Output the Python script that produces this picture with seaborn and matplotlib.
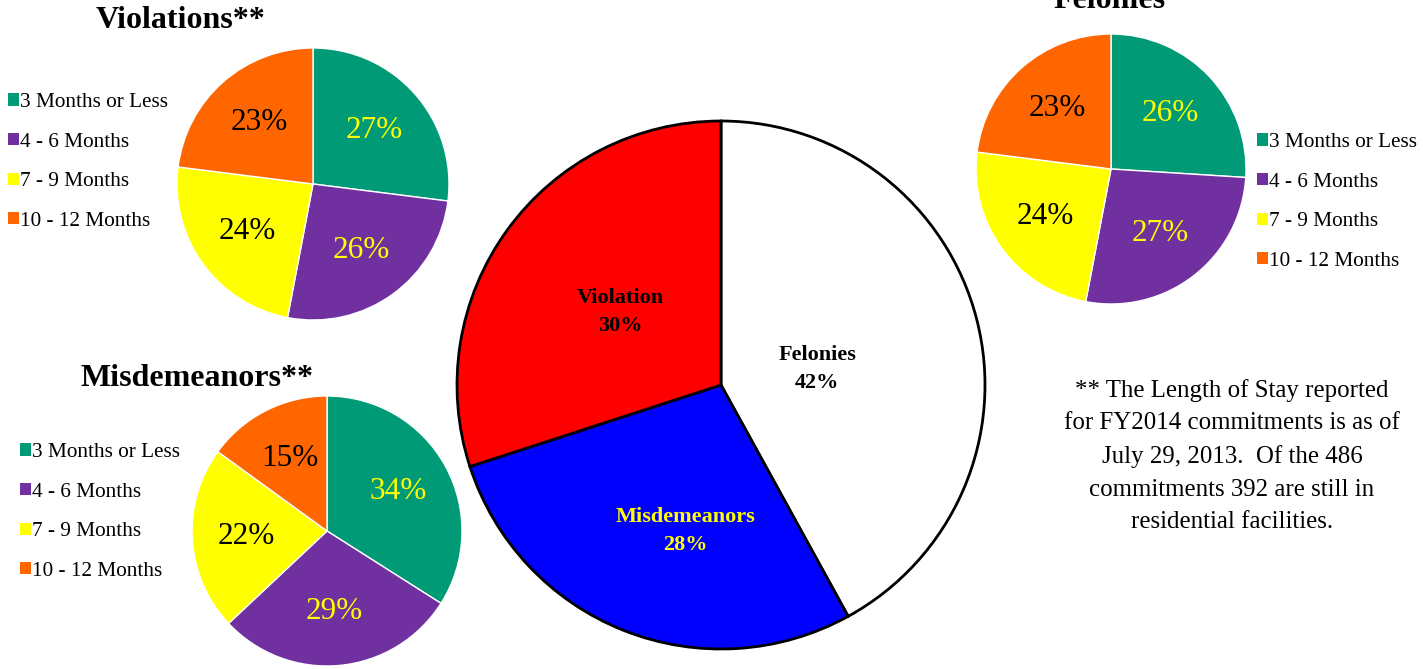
import numpy as np
import seaborn as sns
import matplotlib.pyplot as plt
from matplotlib.patches import Patch

sns.set_style("white")
plt.rcParams['font.family'] = ['Liberation Serif', 'DejaVu Serif']
plt.rcParams['text.color'] = 'black'

# data
stay_labels = ["3 Months or Less", "4 - 6 Months", "7 - 9 Months", "10 - 12 Months"]
violations_pct = [27, 26, 24, 23]
misdemeanors_pct = [34, 29, 22, 15]
felonies_pct = [26, 27, 24, 23]

main_labels = ["Felonies", "Misdemeanors", "Violation"]
main_pct = [42, 28, 30]

stay_colors = ["#009A77", "#7030A0", "#FFFF00", "#FF6600"]
stay_text = ["#FFFF00", "#FFFF00", "black", "black"]
main_colors = ["white", "#0000FF", "#FF0000"]
main_text = ["black", "#FFFF00", "black"]

note = ("** The Length of Stay reported\nfor FY2014 commitments is as of\n"
        "July 29, 2013.  Of the 486\ncommitments 392 are still in\nresidential facilities.")

W, H = 1423, 669
fig = plt.figure(figsize=(W / 100, H / 100), dpi=100)


def pie_axes(cx, cy, r):
    ax = fig.add_axes([(cx - r) / W, (H - cy - r) / H, 2 * r / W, 2 * r / H])
    ax.set_xlim(-1, 1)
    ax.set_ylim(-1, 1)
    ax.set_aspect("equal")
    ax.axis("off")
    return ax


def small_pie(cx, cy, r, values, title, tx, ty, lx, ly):
    ax = pie_axes(cx, cy, r)
    wedges, _, autotexts = ax.pie(values, colors=stay_colors, startangle=90, counterclock=False,
                                  autopct=lambda p: "%d%%" % round(p), pctdistance=0.6,
                                  textprops=dict(fontsize=22.5))
    ax.set_xlim(-1, 1)
    ax.set_ylim(-1, 1)
    for t, c in zip(autotexts, stay_text):
        t.set_color(c)
    fig.text(tx / W, 1 - ty / H, title, ha="center", va="baseline", fontsize=23, fontweight="bold")
    handles = [Patch(facecolor=c, edgecolor="none") for c in stay_colors]
    fig.legend(handles, stay_labels, loc="upper left", bbox_to_anchor=(lx / W, 1 - ly / H),
               frameon=False, fontsize=15.3, handlelength=0.5, handleheight=0.5,
               handletextpad=0.08, labelspacing=0.97, borderpad=0, borderaxespad=0)


small_pie(313, 184, 136, violations_pct, "Violations**", 181, 28, 8, 93)
small_pie(327, 531, 135, misdemeanors_pct, "Misdemeanors**", 197, 386, 20, 443)
small_pie(1111, 169, 135, felonies_pct, "Felonies", 1110, 8, 1257, 133)

# main pie
ax = pie_axes(721, 385, 264)
wedges, _ = ax.pie(main_pct, colors=main_colors, startangle=90, counterclock=False,
                   wedgeprops=dict(edgecolor="black", linewidth=2))
ax.set_xlim(-1, 1)
ax.set_ylim(-1, 1)
label_dist = [0.37, 0.57, 0.47]
label_turn = [-5, 8, 0]  # small angle nudges, like Excel's best-fit labels
for w, lab, pct, c, d, t in zip(wedges, main_labels, main_pct, main_text, label_dist, label_turn):
    w.set_clip_on(False)
    ang = np.deg2rad((w.theta1 + w.theta2) / 2 + t)
    ax.text(d * np.cos(ang), d * np.sin(ang), "%s\n%d%%" % (lab, pct), ha="center", va="center",
            fontsize=16, fontweight="bold", color=c, linespacing=1.55)

fig.text(1232 / W, 1 - 456 / H, note, ha="center", va="center", fontsize=17.9, linespacing=1.62)

fig.savefig("out.png", dpi=100, facecolor="white")
